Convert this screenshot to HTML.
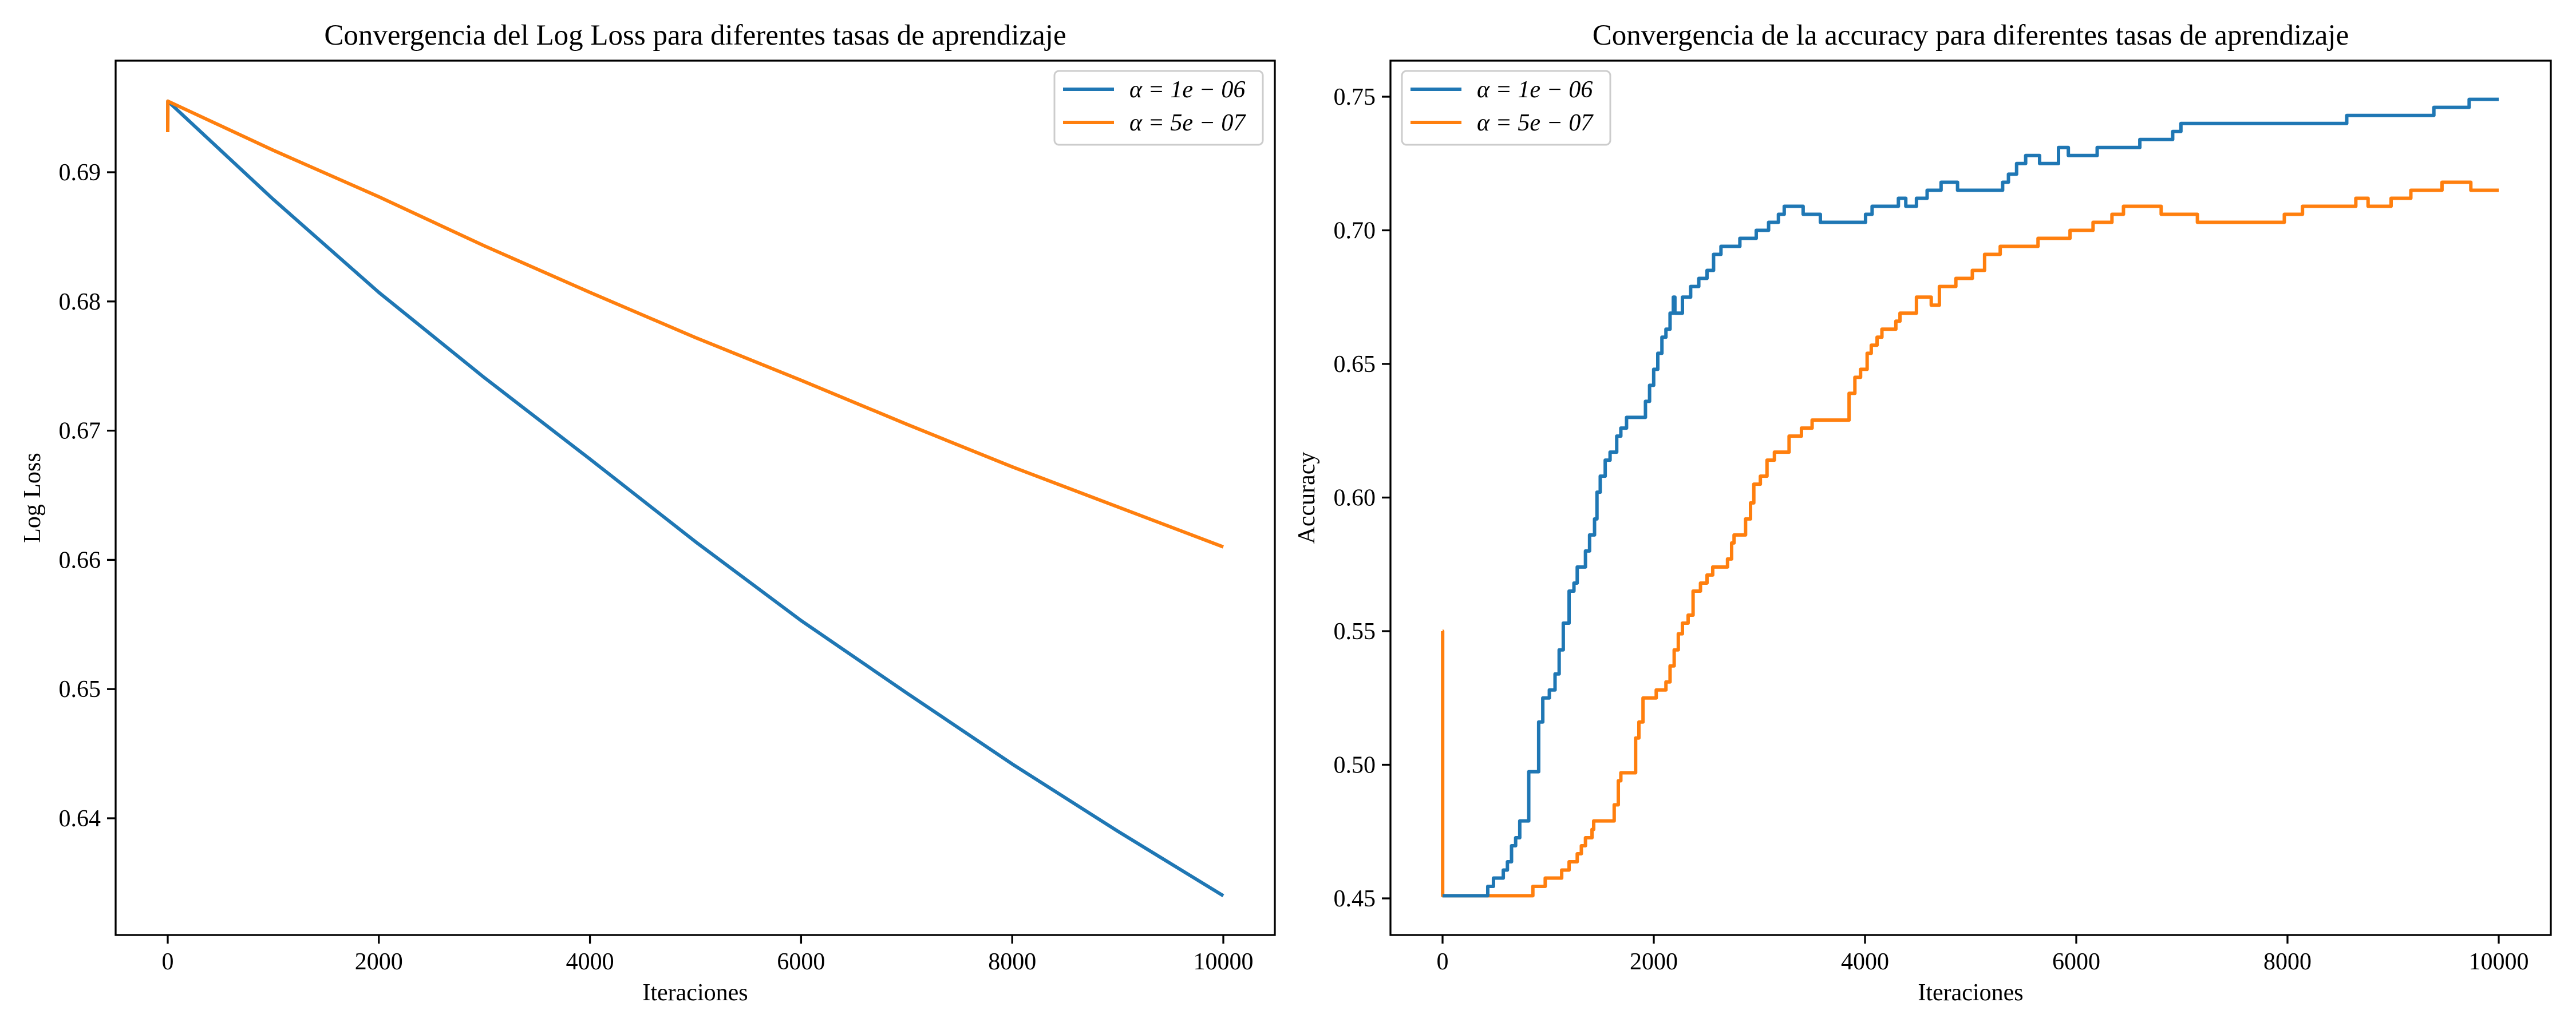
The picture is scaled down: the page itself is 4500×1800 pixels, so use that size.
<!DOCTYPE html>
<html><head><meta charset="utf-8"><style>
html,body{margin:0;padding:0;background:#fff}
svg{display:block}
text{font-family:"Liberation Serif",serif;fill:#000}
</style></head><body>
<svg id="fig" width="4500" height="1800" viewBox="0 0 4500 1800" xmlns="http://www.w3.org/2000/svg">
<rect width="4500" height="1800" fill="#fff"/>
<g id="left"></g>
<g id="right"></g>
</svg>
<script>
// ---- Log loss data ----
const lossIters = [0, 1, 1000, 2000, 3000, 4000, 5000, 6000, 7000, 8000, 9000, 10000];
const lossFast = [0.6931, 0.6955, 0.6879, 0.6807, 0.6741, 0.6678, 0.6614, 0.6553, 0.6497, 0.6442, 0.6390, 0.6340];
const lossSlow = [0.6931, 0.6955, 0.6917, 0.6881, 0.6843, 0.6807, 0.6772, 0.6739, 0.6705, 0.6672, 0.6641, 0.6610];
const lossYTicks = [0.64, 0.65, 0.66, 0.67, 0.68, 0.69];
const lossYLabels = ["0.64", "0.65", "0.66", "0.67", "0.68", "0.69"];
const xTicks = [0, 2000, 4000, 6000, 8000, 10000];
const xTickLabels = ["0", "2000", "4000", "6000", "8000", "10000"];
// ---- Accuracy data (step series) ----
const accFastIters = [0,428,482,575,614,653,692,731,816,910,949,1011,1065,1104,1143,1198,1244,1275,1353,1392,1439,1462,1493,1540,1586,1649,1688,1742,1921,1960,1999,2038,2077,2115,2154,2185,2200,2271,2349,2426,2504,2566,2636,2815,2970,3087,3180,3235,3414,3577,4005,4067,4316,4386,4487,4588,4720,4876,5303,5358,5435,5521,5653,5832,5925,6198,6602,6913,6991,8561,9386,9720,10000];
const accFastVals = [0.451,0.4545,0.4576,0.4606,0.4637,0.4697,0.4727,0.479,0.4974,0.516,0.525,0.528,0.534,0.543,0.553,0.565,0.568,0.574,0.580,0.586,0.592,0.602,0.608,0.614,0.617,0.623,0.626,0.630,0.636,0.642,0.648,0.654,0.660,0.663,0.669,0.675,0.669,0.675,0.679,0.682,0.685,0.691,0.694,0.697,0.700,0.703,0.706,0.709,0.706,0.703,0.706,0.709,0.712,0.709,0.712,0.715,0.718,0.715,0.718,0.721,0.725,0.728,0.725,0.731,0.728,0.731,0.734,0.737,0.740,0.743,0.746,0.749,0.749];
const accSlowIters = [0,1,855,972,1128,1198,1275,1314,1353,1415,1431,1625,1664,1688,1828,1859,1898,2023,2115,2154,2193,2232,2271,2325,2372,2442,2504,2558,2698,2737,2760,2869,2916,2947,3009,3072,3142,3281,3398,3499,3849,3904,3958,4020,4059,4114,4160,4292,4331,4487,4627,4704,4860,5016,5132,5280,5638,5941,6159,6338,6447,6804,7147,7970,8142,8647,8763,8981,9168,9463,9736,10000];
const accSlowVals = [0.55,0.451,0.4545,0.4576,0.4606,0.4637,0.4667,0.4697,0.4727,0.4758,0.479,0.485,0.494,0.497,0.510,0.516,0.525,0.528,0.531,0.537,0.543,0.549,0.553,0.556,0.565,0.568,0.571,0.574,0.577,0.583,0.586,0.592,0.598,0.605,0.608,0.614,0.617,0.623,0.626,0.629,0.639,0.645,0.648,0.654,0.657,0.660,0.663,0.666,0.669,0.675,0.672,0.679,0.682,0.685,0.691,0.694,0.697,0.700,0.703,0.706,0.709,0.706,0.703,0.706,0.709,0.712,0.709,0.712,0.715,0.718,0.715,0.715];
const accYTicks = [0.45, 0.50, 0.55, 0.60, 0.65, 0.70, 0.75];
const accYLabels = ["0.45", "0.50", "0.55", "0.60", "0.65", "0.70", "0.75"];

const NS = "http://www.w3.org/2000/svg";
const BLUE = "#1f77b4", ORANGE = "#ff7f0e";
function mk(parent, tag, attrs, txt) {
  const e = document.createElementNS(NS, tag);
  for (const k in attrs) e.setAttribute(k, attrs[k]);
  if (txt !== undefined) e.textContent = txt;
  parent.appendChild(e);
  return e;
}
function linScale(d0, d1, r0, r1) { return v => r0 + (v - d0) * (r1 - r0) / (d1 - d0); }

function drawPanel(g, cfg) {
  const { L, R, T, B, x, y } = cfg;
  cfg.series.forEach(s => {
    let d = "";
    for (let i = 0; i < s.xs.length; i++) {
      const px = x(s.xs[i]), py = y(s.ys[i]);
      if (i === 0) d += "M" + px + "," + py;
      else if (cfg.step) d += "H" + px + "V" + py;
      else d += "L" + px + "," + py;
    }
    const p = mk(g, "path", { d: d, fill: "none", stroke: s.color, "stroke-width": 6, "stroke-linejoin": "round" });
    
    
  });
  const fr = mk(g, "rect", { x: L, y: T, width: R - L, height: B - T, fill: "none", stroke: "#000", "stroke-width": 3.3 });
  
  
  xTicks.forEach((v, i) => {
    const px = x(v);
    const t = mk(g, "line", { x1: px, x2: px, y1: B, y2: B + 15, stroke: "#000", "stroke-width": 3.3 });
    
    
    const lb = mk(g, "text", { x: px, y: B + 60, "font-size": 42, "text-anchor": "middle" }, xTickLabels[i]);
    
    
  });
  cfg.yTicks.forEach((v, i) => {
    const py = y(v);
    const t = mk(g, "line", { x1: L - 15, x2: L, y1: py, y2: py, stroke: "#000", "stroke-width": 3.3 });
    
    
    const lb = mk(g, "text", { x: L - 26, y: py + 14, "font-size": 42, "text-anchor": "end" }, cfg.yLabels[i]);
    
    
  });
  const ti = mk(g, "text", { x: (L + R) / 2, y: 78, "font-size": 51, "text-anchor": "middle" }, cfg.title);
  
  
  const xl = mk(g, "text", { x: (L + R) / 2, y: 1748, "font-size": 42, "text-anchor": "middle" }, "Iteraciones");
  
  
  const yl = mk(g, "text", { x: cfg.ylX, y: (T + B) / 2, "font-size": 42, "text-anchor": "middle", transform: "rotate(-90 " + cfg.ylX + " " + (T + B) / 2 + ")" }, cfg.ylabel);
  
  
  const lg = mk(g, "g", {});
  
  
  mk(lg, "rect", { x: cfg.legX, y: 124, width: 364, height: 129, rx: 8, fill: "#fff", "fill-opacity": 0.8, stroke: "#ccc", "stroke-width": 3 });
  const labels = ["\u03b1 = 1e \u2212 06", "\u03b1 = 5e \u2212 07"];
  [BLUE, ORANGE].forEach((c, i) => {
    const yy = 156 + i * 58;
    const ent = mk(lg, "g", {});
    
    
    mk(ent, "line", { x1: cfg.legX + 15, x2: cfg.legX + 104, y1: yy, y2: yy, stroke: c, "stroke-width": 6 });
    mk(ent, "text", { x: cfg.legX + 131, y: yy + 14, "font-size": 42, "font-style": "italic" }, labels[i]);
  });
}

{
  const L = 202, R = 2227, T = 106, B = 1634;
  const x = linScale(0, 10000, 293, 2137);
  const y = linScale(0.69, 0.64, 301, 1430);
  drawPanel(document.getElementById("left"), {
    L, R, T, B, x, y, step: false,
    yTicks: lossYTicks, yLabels: lossYLabels,
    title: "Convergencia del Log Loss para diferentes tasas de aprendizaje",
    ylabel: "Log Loss", ylX: 70, legX: 1842,
    series: [
      { xs: lossIters, ys: lossFast, color: BLUE, name: "loss-line-alpha-1e-06" },
      { xs: lossIters, ys: lossSlow, color: ORANGE, name: "loss-line-alpha-5e-07" }
    ]
  });
}
{
  const L = 2429, R = 4456, T = 106, B = 1634;
  const x = linScale(0, 10000, 2520, 4365);
  const y = linScale(0.75, 0.45, 169, 1570);
  drawPanel(document.getElementById("right"), {
    L, R, T, B, x, y, step: true,
    yTicks: accYTicks, yLabels: accYLabels,
    title: "Convergencia de la accuracy para diferentes tasas de aprendizaje",
    ylabel: "Accuracy", ylX: 2296, legX: 2449,
    series: [
      { xs: accSlowIters, ys: accSlowVals, color: ORANGE, name: "accuracy-line-alpha-5e-07" },
      { xs: accFastIters, ys: accFastVals, color: BLUE, name: "accuracy-line-alpha-1e-06" }
    ]
  });
}
</script>
</body></html>
